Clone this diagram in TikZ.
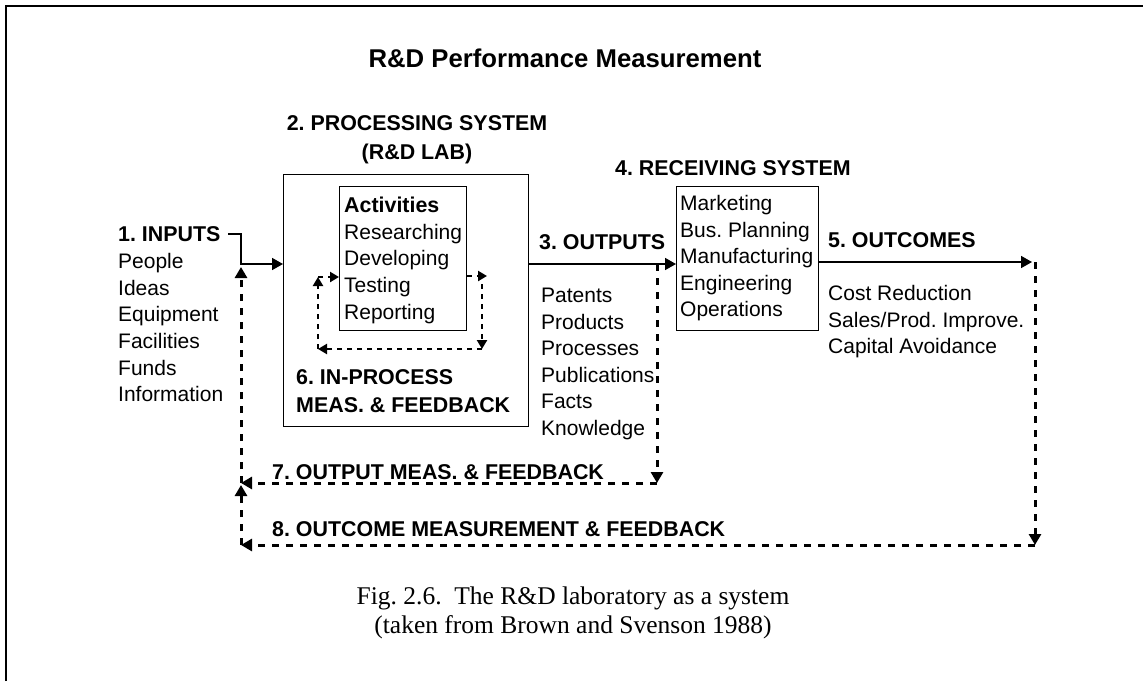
\documentclass[tikz,border=0pt]{standalone}
\usepackage{fontspec}
\setmainfont{Liberation Sans}
\newfontfamily\capfont{Liberation Serif}
\usetikzlibrary{arrows.meta}
\begin{document}
\begin{tikzpicture}[x=1pt,y=-1pt,
  txt/.style={font=\fontsize{21}{26.6}\selectfont, inner sep=0pt, anchor=base west},
  hdr/.style={font=\fontsize{21.4}{26.6}\selectfont\bfseries, inner sep=0pt, anchor=base west},
  hdrc/.style={hdr, anchor=base},
  ttl/.style={font=\fontsize{25.7}{30}\selectfont\bfseries, inner sep=0pt, anchor=base},
  captext/.style={font=\capfont\fontsize{25.5}{30}\selectfont, inner sep=0pt, anchor=base},
  boxline/.style={draw, line width=1pt, inner sep=0pt, anchor=north west},
  flow/.style={line width=1.6pt, -{Triangle[length=11pt,width=12pt]}},
  fb/.style={line width=3pt, dash pattern=on 7pt off 7pt, -{Triangle[length=11pt,width=12pt]}},
  loopfb/.style={line width=2.4pt, dash pattern=on 5pt off 5pt, -{Triangle[length=9pt,width=10pt]}}]
\useasboundingbox (0,0) rectangle (1143,681);
\frenchspacing

% page frame
\draw[line width=2.3pt] (6,681) -- (6,6) -- (1143,6);

% title
\node[ttl] (title) at (565,67.5) {R\&D Performance Measurement};

% 1. inputs
\node[hdr] (inhd) at (118,241.5) {1. INPUTS};
\foreach \t [count=\i] in {People,Ideas,Equipment,Facilities,Funds,Information}
  \node[txt] (in\i) at (118,{268.6+26.6*(\i-1)}) {\t};

% 2. processing system
\node[hdrc] (labhdA) at (417,130.5) {2. PROCESSING SYSTEM};
\node[hdrc] (labhdB) at (417,159.5) {(R\&D LAB)};
\node[boxline, minimum width=245pt, minimum height=252pt] (lab) at (283,174) {};
\node[boxline, minimum width=127pt, minimum height=144pt] (act) at (339,186) {};
\node[hdr] (acthd) at (344,212.5) {Activities};
\foreach \t [count=\i] in {Researching,Developing,Testing,Reporting}
  \node[txt] (act\i) at (344,{212.5+26.7*\i}) {\t};
\node[hdr] (ipA) at (296,384.5) {6. IN-PROCESS};
\node[hdr] (ipB) at (296,412.5) {MEAS. \& FEEDBACK};

% 3. outputs
\node[hdr] (outhd) at (539,249.5) {3. OUTPUTS};
\foreach \t [count=\i] in {Patents,Products,Processes,Publications,Facts,Knowledge}
  \node[txt] (out\i) at (541,{302.5+26.6*(\i-1)}) {\t};

% 4. receiving system
\node[hdr] (rchd) at (615,175.5) {4. RECEIVING SYSTEM};
\node[boxline, minimum width=142pt, minimum height=144pt] (recv) at (676,186) {};
\foreach \t [count=\i] in {Marketing,Bus. Planning,Manufacturing,Engineering,Operations}
  \node[txt] (rc\i) at (680,{210.5+26.5*(\i-1)}) {\t};

% 5. outcomes
\node[hdr] (ochd) at (828,247.5) {5. OUTCOMES};
\foreach \t [count=\i] in {Cost Reduction,Sales/Prod. Improve.,Capital Avoidance}
  \node[txt] (oc\i) at (828,{300.5+26.6*(\i-1)}) {\t};

% 7. and 8. feedback labels
\node[hdr] (fbA) at (272,479.5) {7. OUTPUT MEAS. \& FEEDBACK};
\node[hdr] (fbB) at (272,536) {8. OUTCOME MEASUREMENT \& FEEDBACK};

% caption
\node[captext] (capA) at (573,604) {Fig.\ 2.6.\ \ The R\&D laboratory as a system};
\node[captext] (capB) at (573,633) {(taken from Brown and Svenson 1988)};

% main flow
\coordinate (inTick) at (228,234);
\coordinate (inBend) at (241,234);
\coordinate (inJoin) at (241,264);
\coordinate (outTap) at (657,264);
\coordinate (outcomeEnd) at (1032,262);
\coordinate (outcomeTap) at (1035,262);
\draw[flow] (inTick) -- (inBend) -- (inJoin) -- (inJoin -| lab.west);
\draw[flow] (lab.east |- inJoin) -- (inJoin -| recv.west);
\draw[flow] (recv.east |- outcomeEnd) -- (outcomeEnd);

% output and outcome feedback loops
\coordinate (inUp) at (241,267);
\coordinate (fb7R) at (657,483);
\coordinate (fb7L) at (241,483);
\coordinate (fb7Below) at (241,485);
\coordinate (fb8R) at (1035,545);
\coordinate (fb8L) at (241,545);
\draw[fb] (outTap) -- (fb7R);
\draw[fb] (fb7R) -- (fb7L);
\draw[fb] (fb7L) -- (inUp);
\draw[fb] (outcomeTap) -- (fb8R);
\draw[fb] (fb8R) -- (fb8L);
\draw[fb] (fb8L) -- (fb7Below);

% in-process loop
\coordinate (lpB) at (487,276);
\coordinate (lpBd) at (482,284);
\coordinate (lpC) at (482,349);
\coordinate (lpD) at (318,349);
\coordinate (lpE) at (318,277);
\draw[loopfb] (act.east |- lpB) -- (lpB);
\draw[loopfb] (lpBd) -- (lpC);
\draw[loopfb] (lpC) -- (lpD);
\draw[loopfb] (lpD) -- (lpE);
\draw[loopfb] (lpE) -- (lpE -| act.west);
\end{tikzpicture}
\end{document}
